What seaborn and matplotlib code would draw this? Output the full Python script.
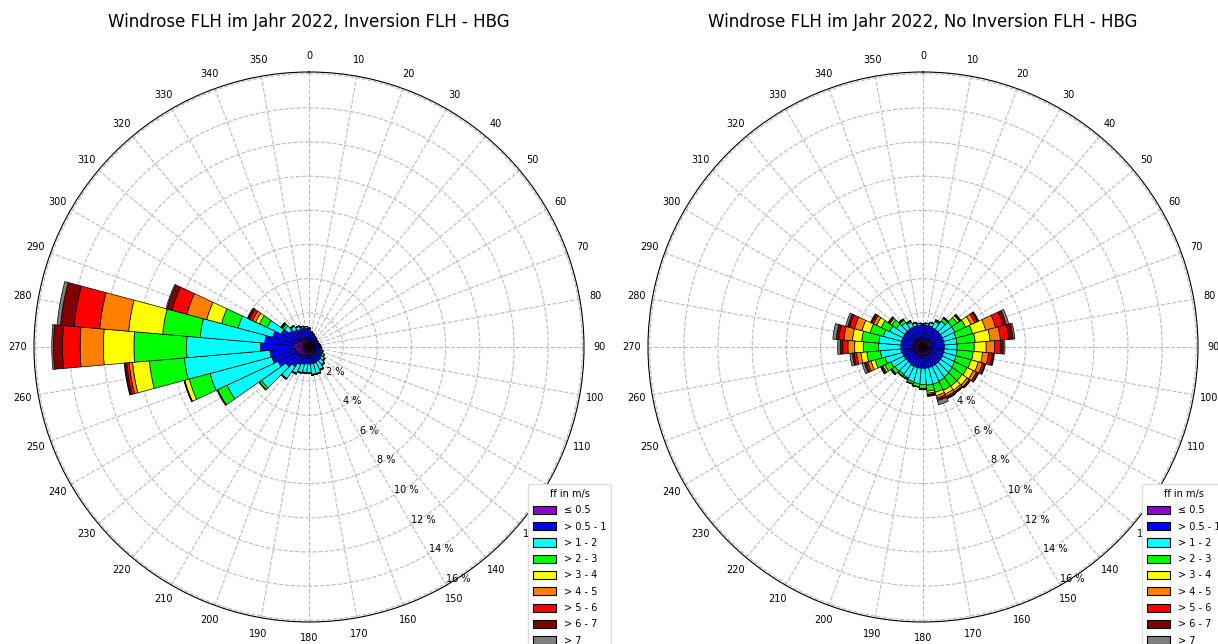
import numpy as np
import matplotlib
matplotlib.use("Agg")
import matplotlib.pyplot as plt
import seaborn as sns
from matplotlib.patches import Patch

# ---------------- data ----------------
directions = list(range(0, 360, 10))
speed_labels = ["≤ 0.5", "> 0.5 - 1", "> 1 - 2", "> 2 - 3", "> 3 - 4",
                "> 4 - 5", "> 5 - 6", "> 6 - 7", "> 7"]
class_colors = ["#9400D3", "#0000FF", "#00FFFF", "#00FF00", "#FFFF00",
                "#FF8000", "#FF0000", "#800000", "#808080"]
titles = ["Windrose FLH im Jahr 2022, Inversion FLH - HBG",
          "Windrose FLH im Jahr 2022, No Inversion FLH - HBG"]
radial_ticks = [2, 4, 6, 8, 10, 12, 14, 16]

# Inversion (percent of time per 10° sector)
inv_c0 = [0.5, 0.45, 0.4, 0.35, 0.3, 0.3, 0.3, 0.3, 0.3, 0.3, 0.3, 0.35, 0.4, 0.4, 0.45, 0.45, 0.5, 0.5,
          0.5, 0.5, 0.5, 0.55, 0.6, 0.65, 0.7, 0.75, 0.8, 0.9, 0.85, 0.75, 0.65, 0.6, 0.6, 0.55, 0.55, 0.5]
inv_c1 = [0.55, 0.4, 0.35, 0.3, 0.3, 0.25, 0.25, 0.25, 0.3, 0.3, 0.35, 0.4, 0.45, 0.5, 0.5, 0.5, 0.5, 0.5,
          0.5, 0.5, 0.55, 0.6, 0.8, 1.0, 1.3, 1.5, 1.5, 1.95, 1.75, 1.45, 1.15, 0.8, 0.65, 0.6, 0.6, 0.6]
inv_c2 = [0.05, 0.05, 0.05, 0.05, 0.05, 0.05, 0.05, 0.05, 0.04, 0.07, 0.07, 0.07, 0.12, 0.2, 0.3, 0.5, 0.6, 0.6,
          0.5, 0.5, 0.5, 0.55, 0.85, 1.75, 3.3, 3.75, 5.02, 4.32, 3.8, 2.1, 0.9, 0.35, 0.25, 0.2, 0.1, 0.1]
inv_c3 = [0, 0, 0, 0, 0.01, 0.01, 0.01, 0.01, 0.01, 0.03, 0.03, 0.03, 0.03, 0.05, 0.05, 0.05, 0.05, 0.05,
          0.05, 0.05, 0.05, 0.05, 0.05, 0.15, 0.6, 1.26, 2.06, 3.08, 2.2, 1.0, 0.5, 0.15, 0.03, 0.02, 0.01, 0.01]
inv_c4 = [0, 0, 0, 0, 0, 0, 0, 0, 0, 0, 0, 0, 0, 0, 0, 0, 0, 0,
          0, 0, 0, 0, 0, 0.01, 0.03, 0.27, 0.99, 1.79, 2.0, 0.9, 0.25, 0.05, 0.01, 0, 0, 0]
inv_c5 = [0, 0, 0, 0, 0, 0, 0, 0, 0, 0, 0, 0, 0, 0, 0, 0, 0, 0,
          0, 0, 0, 0, 0, 0, 0, 0.02, 0.2, 1.36, 1.7, 1.2, 0.2, 0.03, 0, 0, 0, 0]
inv_c6 = [0, 0, 0, 0, 0, 0, 0, 0, 0, 0, 0, 0, 0, 0, 0, 0, 0, 0,
          0, 0, 0, 0, 0, 0, 0, 0.01, 0.15, 1.03, 1.5, 0.9, 0.2, 0.02, 0, 0, 0, 0]
inv_c7 = [0, 0, 0, 0, 0, 0, 0, 0, 0, 0, 0, 0, 0, 0, 0, 0, 0, 0,
          0, 0, 0, 0, 0, 0, 0, 0.01, 0.1, 0.53, 0.8, 0.3, 0.1, 0.01, 0, 0, 0, 0]
inv_c8 = [0, 0, 0, 0, 0, 0, 0, 0, 0, 0, 0, 0, 0, 0, 0, 0, 0, 0,
          0, 0, 0, 0, 0, 0, 0, 0, 0.04, 0.1, 0.2, 0.07, 0.03, 0, 0, 0, 0, 0]

# No inversion
noinv_c0 = [0.5] * 36
noinv_c1 = [0.8, 0.8, 0.8, 0.75, 0.75, 0.75, 0.75, 0.75, 0.75, 0.75, 0.75, 0.75, 0.75, 0.75, 0.75, 0.75, 0.75, 0.75,
            0.75, 0.75, 0.75, 0.75, 0.7, 0.7, 0.72, 0.75, 0.8, 0.8, 0.8, 0.8, 0.8, 0.8, 0.8, 0.8, 0.8, 0.8]
noinv_c2 = [0.05, 0.1, 0.2, 0.4, 0.6, 0.8, 0.8, 0.75, 0.75, 0.75, 0.75, 0.75, 0.8, 0.85, 0.9, 0.95, 1.0, 1.0,
            0.95, 0.9, 0.85, 0.75, 0.75, 0.8, 0.85, 1.05, 1.2, 1.3, 1.3, 1.1, 0.85, 0.6, 0.45, 0.3, 0.17, 0.1]
noinv_c3 = [0, 0, 0, 0.08, 0.2, 0.4, 0.7, 1.0, 1.07, 1.0, 0.95, 0.9, 0.8, 0.7, 0.65, 0.6, 0.5, 0.35,
            0.22, 0.17, 0.12, 0.08, 0.12, 0.22, 0.4, 0.6, 0.8, 0.9, 1.0, 0.8, 0.55, 0.35, 0.18, 0.08, 0.03, 0]
noinv_c4 = [0, 0, 0, 0.02, 0.05, 0.15, 0.35, 0.8, 0.88, 0.7, 0.55, 0.45, 0.4, 0.35, 0.3, 0.25, 0.2, 0.12,
            0.04, 0.02, 0.03, 0.02, 0.03, 0.05, 0.12, 0.25, 0.35, 0.5, 0.55, 0.5, 0.3, 0.12, 0.05, 0.02, 0, 0]
noinv_c5 = [0, 0, 0, 0, 0, 0.05, 0.25, 0.6, 0.6, 0.5, 0.35, 0.25, 0.2, 0.15, 0.12, 0.15, 0.15, 0.08,
            0.02, 0.01, 0, 0, 0, 0.02, 0.07, 0.2, 0.25, 0.4, 0.5, 0.45, 0.2, 0.07, 0.02, 0, 0, 0]
noinv_c6 = [0, 0, 0, 0, 0, 0.03, 0.15, 0.45, 0.5, 0.35, 0.2, 0.12, 0.1, 0.07, 0.05, 0.08, 0.1, 0.05,
            0.01, 0, 0, 0, 0, 0.01, 0.04, 0.12, 0.15, 0.3, 0.3, 0.3, 0.1, 0.03, 0, 0, 0, 0]
noinv_c7 = [0, 0, 0, 0, 0, 0.02, 0.07, 0.2, 0.25, 0.15, 0.1, 0.05, 0.03, 0.02, 0.02, 0.04, 0.05, 0.03,
            0.01, 0, 0, 0, 0, 0, 0.02, 0.08, 0.1, 0.15, 0.15, 0.12, 0.05, 0.02, 0, 0, 0, 0]
noinv_c8 = [0, 0, 0, 0, 0, 0, 0.03, 0.15, 0.1, 0.1, 0.05, 0.03, 0.02, 0.01, 0.01, 0.03, 0.25, 0.02,
            0, 0, 0, 0, 0, 0, 0.03, 0.15, 0.15, 0.15, 0.2, 0.13, 0.05, 0.01, 0, 0, 0, 0]

inv_classes = [inv_c0, inv_c1, inv_c2, inv_c3, inv_c4, inv_c5, inv_c6, inv_c7, inv_c8]
noinv_classes = [noinv_c0, noinv_c1, noinv_c2, noinv_c3, noinv_c4, noinv_c5, noinv_c6, noinv_c7, noinv_c8]

# ---------------- style ----------------
sns.set_style("white")
plt.rcParams['font.family'] = ['DejaVu Sans']
plt.rcParams['text.color'] = 'black'
plt.rcParams['xtick.color'] = 'black'
plt.rcParams['ytick.color'] = 'black'
plt.rcParams['axes.labelcolor'] = 'black'
palette = sns.color_palette(class_colors)

W, H = 1218, 644
fig = plt.figure(figsize=(W / 100, H / 100), dpi=100)

R = 275
centers = [(309, 347), (923, 347)]


def draw_rose(ax, classes, title, cx):
    theta = np.deg2rad(directions)
    width = np.deg2rad(10)
    bottom = np.zeros(len(directions))
    for vals, col in zip(classes, palette):
        v = np.asarray(vals, dtype=float)
        ax.bar(theta, v, width=width, bottom=bottom, color=col,
               edgecolor="black", linewidth=0.5, align="center", zorder=2)
        bottom = bottom + v
    ax.set_theta_zero_location("N")
    ax.set_theta_direction(-1)
    ax.set_thetagrids(directions, labels=[str(d) for d in directions], fontsize=7)
    ax.set_ylim(0, 16.1)
    ax.set_rgrids(radial_ticks, labels=[f"{t} %" for t in radial_ticks], angle=150, fontsize=7)
    ax.tick_params(axis="x", pad=1)
    ax.set_axisbelow(True)
    ax.grid(True, linestyle="--", color="#bbbbbb", linewidth=0.8)
    ax.spines["polar"].set_color("black")
    ax.spines["polar"].set_linewidth(0.8)
    fig.text(cx / W, 1 - 22 / H, title, ha="center", va="center", fontsize=12, color="black")


for (cx, cy), classes, title in zip(centers, [inv_classes, noinv_classes], titles):
    ax = fig.add_axes([(cx - R) / W, (H - cy - R) / H, 2 * R / W, 2 * R / H], projection="polar")
    draw_rose(ax, classes, title, cx)
    handles = [Patch(facecolor=c, edgecolor="black", linewidth=0.8, label=l)
               for c, l in zip(palette, speed_labels)]
    ax.legend(handles=handles, title="ff in m/s", loc="upper left",
              bbox_to_anchor=((cx + 219) / W, 1 - 484 / H), bbox_transform=fig.transFigure,
              borderaxespad=0, fontsize=7, title_fontsize=7, handlelength=2.4, handleheight=0.9,
              labelspacing=0.65, borderpad=0.5, framealpha=1, edgecolor="#dddddd")

fig.savefig("out.png", dpi=100)
